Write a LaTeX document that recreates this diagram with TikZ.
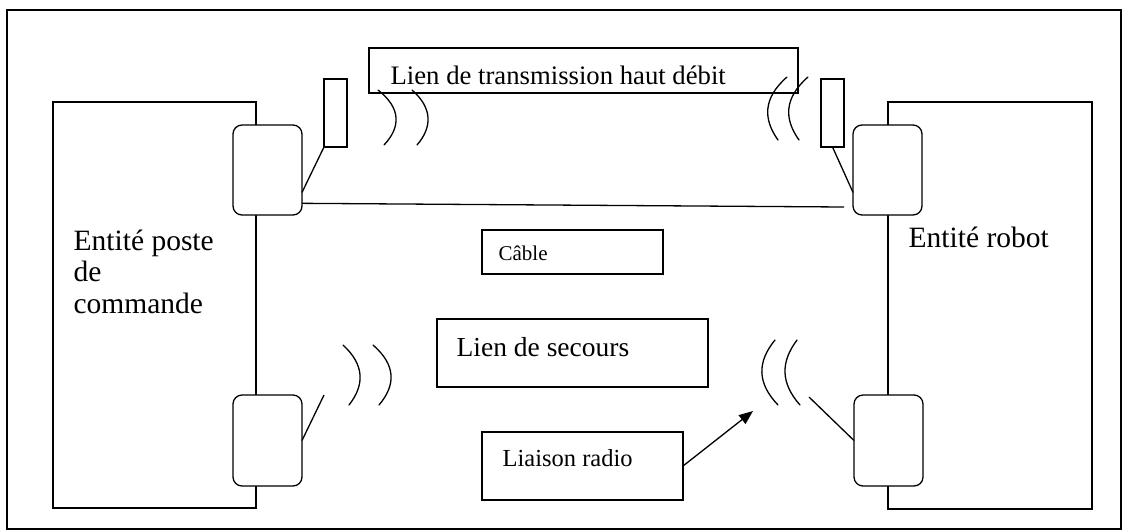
\documentclass[tikz,border=0pt]{standalone}
\usepackage{fontspec}
\setmainfont{Liberation Serif}
\usetikzlibrary{arrows.meta}
\begin{document}
\begin{tikzpicture}[x=1pt,y=-1pt,line width=1.3pt,
  frame/.style={draw,line width=2pt},
  rect/.style={draw,rectangle,anchor=north west,inner sep=0pt,outer sep=0pt,fill=white},
  unit/.style={rect,rounded corners=9pt,minimum width=69pt,minimum height=90pt},
  antenna/.style={rect,minimum width=23pt,minimum height=68pt},
  wave/.style={line cap=round},
  huge/.style={inner sep=0pt,anchor=base west,font=\fontsize{29.5}{31.5}\selectfont},
  big/.style={inner sep=0pt,anchor=base west,font=\fontsize{27.5}{32}\selectfont},
  mid/.style={inner sep=0pt,anchor=base west,font=\fontsize{24.5}{28}\selectfont},
  small/.style={inner sep=0pt,anchor=base west,font=\fontsize{21}{24}\selectfont}]
\useasboundingbox (0,0) rectangle (1124,531);
% outer frame
\draw[frame] (7,10) rectangle (1121,529);

% the two entities
\node[rect,fill=none,minimum width=203pt,minimum height=406pt] (entL) at (53,102) {};
\node[rect,fill=none,minimum width=204pt,minimum height=407pt] (entR) at (888,102) {};
\node[huge,align=left] (entLtxt) at (73,313) {Entité poste\\de\\commande};
\node[huge] (entRtxt) at (908,247) {Entité robot};

% interface units on the entity borders
\node[unit] (tl) at (233,125) {};
\node[unit,minimum height=91pt] (bl) at (233,395) {};
\node[unit] (tr) at (853,125) {};
\node[unit,minimum height=91pt] (br) at (854,395) {};

% high-rate antennas
\node[antenna] (antL) at (324,79) {};
\node[antenna] (antR) at (821,79) {};
\draw (antL.south west) -- (tl.-33.7);
\draw (antR.south) -- (tr.213.7);

% label boxes
\node[rect,fill=none,minimum width=429pt,minimum height=45pt] (hd) at (369,48) {};
\node[big,font=\fontsize{26.7}{30}\selectfont] (hdtxt) at (390,84) {Lien de transmission haut débit};
\node[rect,fill=none,minimum width=181pt,minimum height=44pt] (cab) at (482,230) {};
\node[small] (cabtxt) at (498,260) {Câble};
\node[rect,fill=none,minimum width=271pt,minimum height=68pt] (sec) at (437,319) {};
\node[big] (sectxt) at (456,356) {Lien de secours};
\node[rect,fill=none,minimum width=201pt,minimum height=68pt] (lr) at (482,432) {};
\node[mid] (lrtxt) at (502,466) {Liaison radio};

% cable between the upper units
\coordinate (cabEnd) at (844,207);
\draw (tl.-44.6) -- (cabEnd);

% backup radio aerials
\coordinate (aerL) at (324,395);
\coordinate (aerR) at (809,397);
\draw (aerL) -- (bl.east);
\draw (aerR) -- (br.west);

% arrow pointing to the radio waves
\coordinate (tip) at (753,411);
\draw[-{Triangle[length=14pt,width=11pt]}] (lr.east) -- (tip);

% radio waves
\draw[wave] (378,90) .. controls (401,108) and (401,127) .. (384,145);
\draw[wave] (412,90) .. controls (432.5,108) and (432.5,127) .. (417,145);
\draw[wave] (787,77) .. controls (763,98) and (763,119) .. (778,140);
\draw[wave] (808,77) .. controls (784,98) and (784,119) .. (799,140);
\draw[wave] (343,345) .. controls (364.7,365) and (364.7,385) .. (349,405);
\draw[wave] (373,345) .. controls (396,365) and (396,385) .. (379,405);
\draw[wave] (775,340) .. controls (757,362) and (757,383) .. (778,405);
\draw[wave] (797,340) .. controls (780.5,362) and (780.5,383) .. (800,405);
\end{tikzpicture}
\end{document}
